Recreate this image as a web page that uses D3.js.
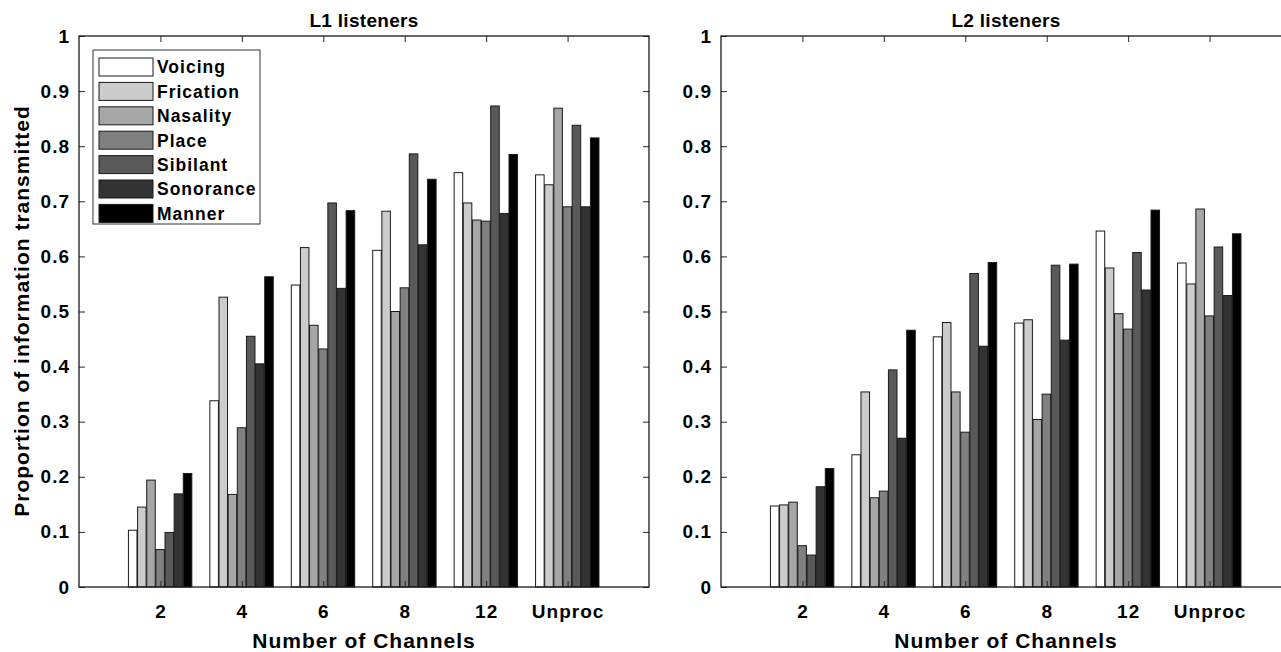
<!DOCTYPE html>
<meta charset="utf-8">
<style>
body { margin: 0; background: #fff; }
text { font-family: "Liberation Sans", Arial, sans-serif; font-weight: bold; fill: #000; letter-spacing: 1px; }
.tick text { font-size: 19px; }
.domain { display: none; }
.tick line { stroke: #262626; }
</style>
<svg width="1281" height="652"></svg>
<script src="https://d3js.org/d3.v7.min.js"></script>
<script>

var channels = ["2", "4", "6", "8", "12", "Unproc"];
var features = ["Voicing", "Frication", "Nasality", "Place", "Sibilant", "Sonorance", "Manner"];
var colors = ["#ffffff", "#cccccc", "#a6a6a6", "#808080", "#595959", "#333333", "#000000"];
var yTicks = [0, 0.1, 0.2, 0.3, 0.4, 0.5, 0.6, 0.7, 0.8, 0.9, 1];

// one row per feature, one value per channel condition
var l1Values = [
  [0.103, 0.338, 0.548, 0.611, 0.752, 0.748],
  [0.145, 0.526, 0.616, 0.682, 0.697, 0.730],
  [0.194, 0.168, 0.475, 0.500, 0.666, 0.869],
  [0.068, 0.289, 0.432, 0.543, 0.664, 0.690],
  [0.099, 0.455, 0.697, 0.786, 0.873, 0.838],
  [0.169, 0.405, 0.542, 0.621, 0.678, 0.690],
  [0.206, 0.563, 0.683, 0.740, 0.785, 0.815]
];
var l2Values = [
  [0.147, 0.240, 0.454, 0.479, 0.646, 0.588],
  [0.149, 0.354, 0.480, 0.485, 0.579, 0.550],
  [0.154, 0.162, 0.354, 0.304, 0.496, 0.686],
  [0.075, 0.174, 0.281, 0.350, 0.468, 0.492],
  [0.058, 0.394, 0.569, 0.584, 0.607, 0.617],
  [0.182, 0.270, 0.437, 0.448, 0.539, 0.529],
  [0.215, 0.466, 0.589, 0.586, 0.684, 0.641]
];

var svg = d3.select("svg");
var plotTop = 36, plotBottom = 587;

function panel(left, right, title, values, legend) {
  var g = svg.append("g");
  var x = d3.scaleLinear().domain([0, 7]).range([left, right]);
  var y = d3.scaleLinear().domain([0, 1]).range([plotBottom, plotTop]);
  var inner = d3.scaleBand().domain(features).range([-0.393, 0.393]);
  var mid = (left + right) / 2;

  // bars
  features.forEach(function(f, s) {
    g.append("g").selectAll("rect")
      .data(values[s])
      .join("rect")
        .attr("x", function(d, i) { return x(i + 1 + inner(f)); })
        .attr("width", x(inner.bandwidth()) - x(0) - 0.6)
        .attr("y", function(d) { return y(d); })
        .attr("height", function(d) { return y(0) - y(d); })
        .attr("fill", colors[s])
        .attr("stroke", "#1a1a1a")
        .attr("stroke-width", 1);
  });

  var catTicks = d3.range(1, 7);
  g.append("g").attr("transform", "translate(0," + plotBottom + ")")
    .call(d3.axisBottom(x).tickValues(catTicks).tickSize(-6).tickPadding(18)
      .tickFormat(function(d) { return channels[d - 1]; }));
  g.append("g").attr("transform", "translate(0," + plotTop + ")")
    .call(d3.axisTop(x).tickValues(catTicks).tickSize(-6).tickFormat(""));
  g.append("g").attr("transform", "translate(" + left + ",0)")
    .call(d3.axisLeft(y).tickValues(yTicks).tickSize(-6).tickPadding(9)
      .tickFormat(function(d) { return d === 0 || d === 1 ? d : d.toFixed(1); }));
  g.append("g").attr("transform", "translate(" + right + ",0)")
    .call(d3.axisRight(y).tickValues(yTicks).tickSize(-6).tickFormat(""));

  // box
  g.append("rect")
    .attr("x", left).attr("y", plotTop)
    .attr("width", right - left).attr("height", plotBottom - plotTop)
    .attr("fill", "none").attr("stroke", "#1a1a1a").attr("stroke-width", 1.3);

  g.append("text")
    .attr("x", mid).attr("y", 27)
    .attr("text-anchor", "middle").style("font-size", "19px").style("letter-spacing", "0.3px")
    .text(title);

  g.append("text")
    .attr("x", mid).attr("y", 648)
    .attr("text-anchor", "middle").style("font-size", "21px")
    .text("Number of Channels");

  if (legend) {
    var lg = g.append("g");
    lg.append("rect")
      .attr("x", 93).attr("y", 50).attr("width", 167).attr("height", 174)
      .attr("fill", "#fff").attr("stroke", "#333").attr("stroke-width", 1);
    var row = lg.selectAll("g.row").data(features).join("g")
      .attr("transform", function(d, i) { return "translate(0," + (67 + i * 24.4) + ")"; });
    row.append("rect")
      .attr("x", 99).attr("y", -9).attr("width", 54).attr("height", 18)
      .attr("fill", function(d, i) { return colors[i]; })
      .attr("stroke", "#1a1a1a");
    row.append("text")
      .attr("x", 157).attr("dy", "0.36em").style("font-size", "17.5px")
      .text(function(d) { return d; });
  }
}

panel(79, 649, "L1 listeners", l1Values, true);
panel(721, 1291, "L2 listeners", l2Values, false);

svg.append("text")
  .attr("transform", "translate(29,311) rotate(-90)")
  .attr("text-anchor", "middle").style("font-size", "21px")
  .text("Proportion of information transmitted");

</script>
